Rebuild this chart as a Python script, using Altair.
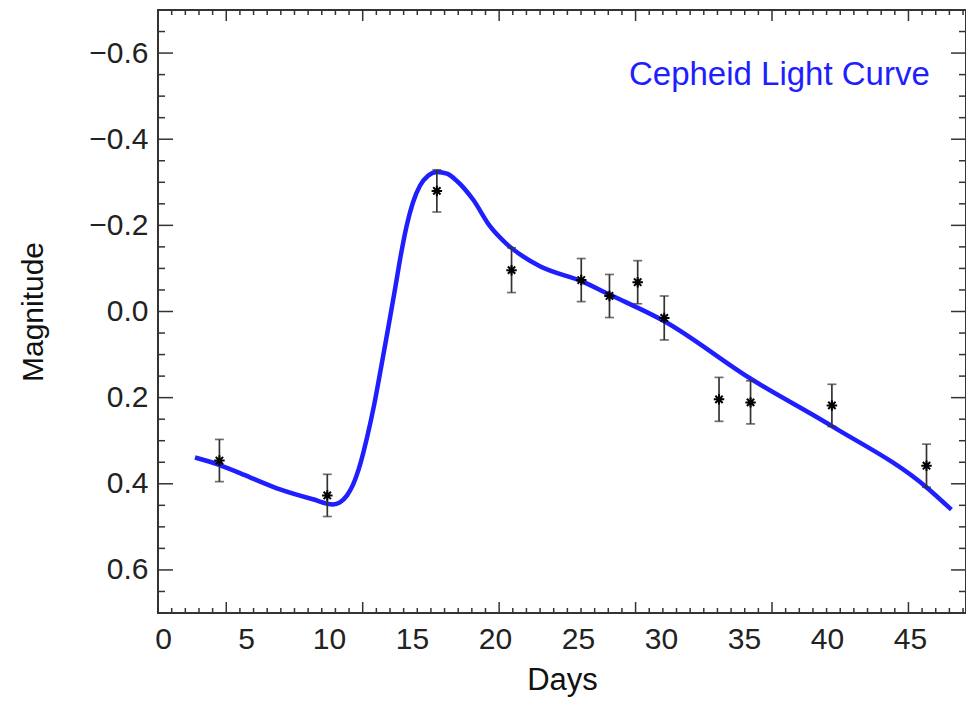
import altair as alt
import pandas as pd

# observations
days = [3.4, 9.9, 16.5, 21.0, 25.2, 26.9, 28.6, 30.2, 33.5, 35.4, 40.3, 46.0]
mag = [0.346, 0.427, -0.280, -0.096, -0.073, -0.036, -0.068, 0.015, 0.204, 0.211, 0.218, 0.358]
err = [0.049, 0.049, 0.049, 0.052, 0.050, 0.050, 0.050, 0.051, 0.051, 0.050, 0.049, 0.050]

# fitted light curve
curve_days = [1.93, 3.38, 5.24, 7.05, 9.04, 10.24, 10.66, 11.09, 11.45, 11.87, 12.29, 12.71,
              13.13, 13.56, 13.98, 14.34, 14.70, 15.06, 15.48, 15.97, 16.51, 17.11, 17.71,
              18.68, 19.70, 20.73, 21.69, 22.71, 25.24, 26.87, 30.18, 35.36, 40.30, 46.03, 47.50]
curve_mag = [0.339, 0.356, 0.385, 0.413, 0.436, 0.448, 0.443, 0.427, 0.402, 0.356, 0.293, 0.219,
             0.132, 0.040, -0.052, -0.133, -0.202, -0.253, -0.292, -0.315, -0.324, -0.320, -0.303,
             -0.260, -0.198, -0.156, -0.128, -0.105, -0.070, -0.040, 0.022, 0.155, 0.266, 0.409, 0.460]

# axis ticks
x_labels = [0, 5, 10, 15, 20, 25, 30, 35, 40, 45]
y_labels = [-0.6, -0.4, -0.2, 0.0, 0.2, 0.4, 0.6]
y_minor = [-0.65, -0.55, -0.5, -0.45, -0.35, -0.3, -0.25, -0.15, -0.1, -0.05,
           0.05, 0.1, 0.15, 0.25, 0.3, 0.35, 0.45, 0.5, 0.55, 0.65]
x_tick_start = 0.525
x_tick_step = 0.822
W, H = 808, 603
XDOM = [-0.3, 48.38]
YDOM = [-0.7, 0.7]
x_ticks_all = [round(x_tick_start + k * x_tick_step, 3) for k in range(59)]
x_major = [v for k, v in enumerate(x_ticks_all) if k % 10 == 4 and v < XDOM[1]]
x_minor = [v for k, v in enumerate(x_ticks_all) if k % 10 != 4 and v < XDOM[1]]

BLUE = "#1e1eff"
FONT = "Liberation Sans"
AX = "#333333"

xs = alt.Scale(domain=XDOM, zero=False, nice=False)
ys = alt.Scale(domain=YDOM, zero=False, nice=False, reverse=True)
xaxis = alt.Axis(values=x_labels, format="d", ticks=False, domain=False, grid=False,
                 labelFontSize=30, labelPadding=11, labelColor="#222", labelFont=FONT,
                 titleFontSize=31, titleFont=FONT, titleFontWeight="normal", titleColor="#111",
                 titlePadding=11)
yaxis = alt.Axis(values=y_labels, format=".1f", ticks=False, domain=False, grid=False,
                 labelFontSize=30, labelPadding=10, labelColor="#222", labelFont=FONT,
                 titleFontSize=30, titleFont=FONT, titleFontWeight="normal", titleColor="#111",
                 titlePadding=40)


def X(field):
    return alt.X(field, scale=xs, axis=xaxis, title="Days")


def Y(field):
    return alt.Y(field, scale=ys, axis=yaxis, title="Magnitude")


obs = pd.DataFrame({"day": days, "mag": mag, "err": err})
obs["lo"] = obs["mag"] - obs["err"]
obs["hi"] = obs["mag"] + obs["err"]
curve = pd.DataFrame({"day": curve_days, "mag": curve_mag})

line = alt.Chart(curve).mark_line(color=BLUE, strokeWidth=4.5, interpolate="monotone").encode(
    x=X("day:Q"), y=Y("mag:Q"),
)
bars = alt.Chart(obs).mark_rule(color=AX, strokeWidth=1.7).encode(
    x=X("day:Q"), y=Y("lo:Q"), y2="hi:Q",
)
cap_lo = alt.Chart(obs).mark_tick(orient="horizontal", color=AX, size=9, thickness=1.7).encode(
    x=X("day:Q"), y=Y("lo:Q"),
)
cap_hi = alt.Chart(obs).mark_tick(orient="horizontal", color=AX, size=9, thickness=1.7).encode(
    x=X("day:Q"), y=Y("hi:Q"),
)
star = "M-1,0L1,0M0,-1L0,1M-0.7,-0.7L0.7,0.7M-0.7,0.7L0.7,-0.7"
pts = alt.Chart(obs).mark_point(shape=star, filled=False, color="#000", strokeWidth=2, size=110, opacity=1).encode(
    x=X("day:Q"), y=Y("mag:Q"),
)

label = alt.Chart(pd.DataFrame({"day": [46.2], "mag": [-0.548], "t": ["Cepheid Light Curve"]})).mark_text(
    align="right", baseline="middle", fontSize=33, font=FONT, color=BLUE
).encode(
    x=X("day:Q"), y=Y("mag:Q"), text="t:N",
)


def xticks(vals, length):
    df = pd.DataFrame({"day": vals})
    base = alt.Chart(df).mark_rule(color=AX, strokeWidth=1.5)
    bottom = base.encode(x=X("day:Q"), y=alt.value(H), y2=alt.value(H - length))
    top = base.encode(x=X("day:Q"), y=alt.value(0), y2=alt.value(length))
    return [bottom, top]


def yticks(vals, length):
    df = pd.DataFrame({"mag": vals})
    base = alt.Chart(df).mark_rule(color=AX, strokeWidth=1.5)
    left = base.encode(y=Y("mag:Q"), x=alt.value(0), x2=alt.value(length))
    right = base.encode(y=Y("mag:Q"), x=alt.value(W), x2=alt.value(W - length))
    return [left, right]


tick_layers = xticks(x_major, 11) + xticks(x_minor, 5) + yticks(y_labels, 15) + yticks(y_minor, 7)

chart = alt.layer(line, *tick_layers, bars, cap_lo, cap_hi, pts, label).properties(
    width=W, height=H,
    padding={"left": 150, "top": 2, "right": 0, "bottom": 86},
    autosize=alt.AutoSizeParams(type="none"),
    background="white",
).configure_view(stroke=AX, strokeWidth=2)

chart.save("out.html", embed_options={"renderer": "svg", "actions": False})
